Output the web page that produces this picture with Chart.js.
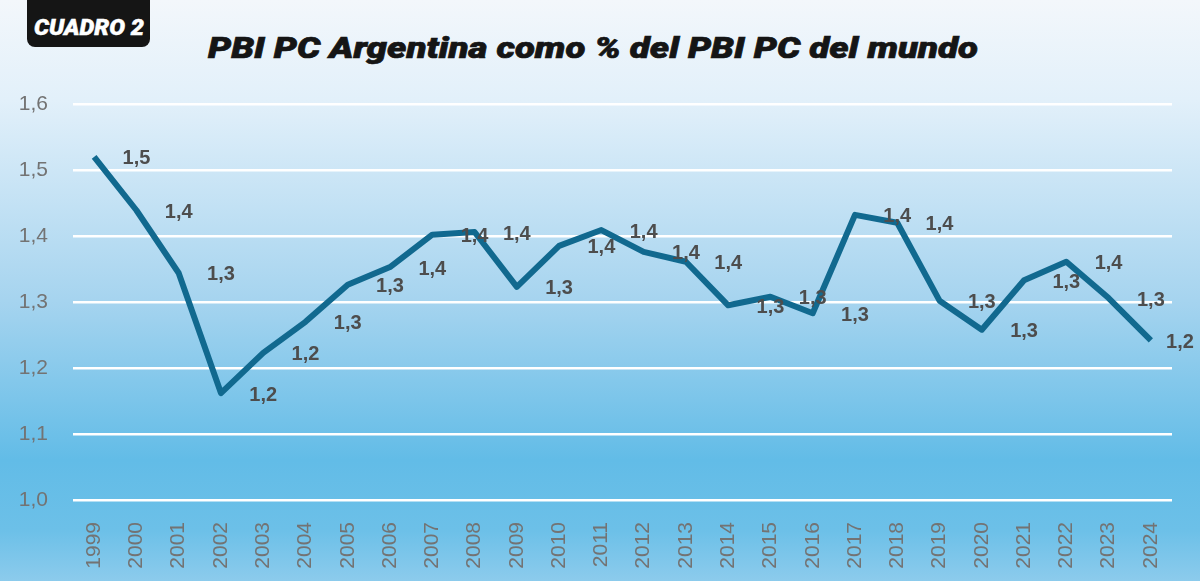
<!DOCTYPE html>
<html>
<head>
<meta charset="utf-8">
<script src="https://cdn.jsdelivr.net/npm/chart.js@4/dist/chart.umd.min.js"></script>
<style>
  html, body { margin: 0; padding: 0; }
  body {
    width: 1200px; height: 581px; overflow: hidden; position: relative;
    background: linear-gradient(to bottom, #f3f7fb 0px, #e2f0fa 100px, #a6d4ef 300px, #62bce7 460px, #6cc0e8 530px, #8ccbec 581px);
    font-family: "Liberation Sans", Arial, sans-serif;
  }
  #badge {
    position: absolute; left: 27px; top: -8px; width: 123px; height: 55px;
    background: #151515; border-radius: 8px;
  }
  #badge span {
    position: absolute; left: 7px; top: 23px; color: #fff; white-space: nowrap;
    font: italic 900 22px Roboto, "Liberation Sans", sans-serif;
    -webkit-text-stroke: 0.5px #fff;
    transform-origin: 0 0;
  }
  #title {
    position: absolute; left: 208px; top: 31px; white-space: nowrap;
    font: italic 900 29px Roboto, "Liberation Sans", sans-serif; color: #151515;
    -webkit-text-stroke: 0.7px #151515;
    transform-origin: 0 0;
  }
  #wrap { position: absolute; left: 0; top: 0; width: 1200px; height: 581px; }
</style>
</head>
<body>
<div id="badge"><span id="badgeTxt">CUADRO 2</span></div>
<div id="title">PBI PC Argentina como % del PBI PC del mundo</div>
<div id="wrap"><canvas id="grafico" width="1200" height="581"></canvas></div>
<script>
// datos
var years = ['1999','2000','2001','2002','2003','2004','2005','2006','2007','2008','2009','2010','2011',
  '2012','2013','2014','2015','2016','2017','2018','2019','2020','2021','2022','2023','2024'];
var ratio = [1.520, 1.439, 1.344, 1.162, 1.223, 1.270, 1.326, 1.353, 1.402, 1.406, 1.323, 1.385, 1.409,
  1.376, 1.361, 1.295, 1.308, 1.283, 1.432, 1.420, 1.302, 1.258, 1.333, 1.361, 1.306, 1.242];
var yTicks = [1.0, 1.1, 1.2, 1.3, 1.4, 1.5, 1.6];

// estirar los textos del encabezado al ancho del original
function estirar(id, ancho) {
  var el = document.getElementById(id);
  var w = el.getBoundingClientRect().width;
  el.style.transform = 'scaleX(' + (ancho / w) + ')';
}
estirar('title', 770);
estirar('badgeTxt', 110);

function coma(v) {
  return v.toFixed(1).replace('.', ',');
}

// etiquetas corridas una categoria a la derecha, como en el original
var etiquetas = {
  id: 'etiquetas',
  afterDatasetsDraw: function(chart) {
    var ctx = chart.ctx;
    var meta = chart.getDatasetMeta(0);
    var xs = chart.scales.x;
    var paso = xs.getPixelForValue(1) - xs.getPixelForValue(0);
    ctx.save();
    ctx.font = 'bold 20px "Liberation Sans", Arial, sans-serif';
    ctx.fillStyle = '#4d4d4d';
    ctx.textAlign = 'center';
    ctx.textBaseline = 'middle';
    meta.data.forEach(function(p, i) {
      var x = Math.min(p.x + paso, chart.width - 20);
      ctx.fillText(coma(ratio[i]), x, p.y + 2);
    });
    ctx.restore();
  }
};

var ctx = document.getElementById('grafico').getContext('2d');
var chart = new Chart(ctx, {
  type: 'line',
  data: {
    labels: years,
    datasets: [{
      data: ratio,
      borderColor: '#11698f',
      borderWidth: 6,
      pointRadius: 0,
      tension: 0,
      borderJoinStyle: 'round'
    }]
  },
  options: {
    responsive: false,
    animation: false,
    devicePixelRatio: 1,
    layout: { padding: { top: 104, right: 28, left: 0, bottom: 0 } },
    plugins: { legend: { display: false }, tooltip: { enabled: false } },
    scales: {
      x: {
        offset: true,
        grid: { display: false },
        border: { display: false },
        ticks: {
          minRotation: 90, maxRotation: 90, padding: 14,
          color: '#737373',
          font: { family: '"Liberation Sans", Arial, sans-serif', size: 21 }
        },
        afterFit: function(s) { s.height = 81; }
      },
      y: {
        min: 1.0, max: 1.6,
        afterBuildTicks: function(s) { s.ticks = yTicks.map(function(v) { return { value: v }; }); },
        grid: { color: '#ffffff', lineWidth: 2.5, drawTicks: false },
        border: { display: false },
        ticks: {
          padding: 25,
          color: '#737373',
          font: { family: '"Liberation Sans", Arial, sans-serif', size: 21 },
          callback: function(v) { return coma(v); }
        },
        afterFit: function(s) { s.width = 73; }
      }
    }
  },
  plugins: [etiquetas]
});
</script>
</body>
</html>
